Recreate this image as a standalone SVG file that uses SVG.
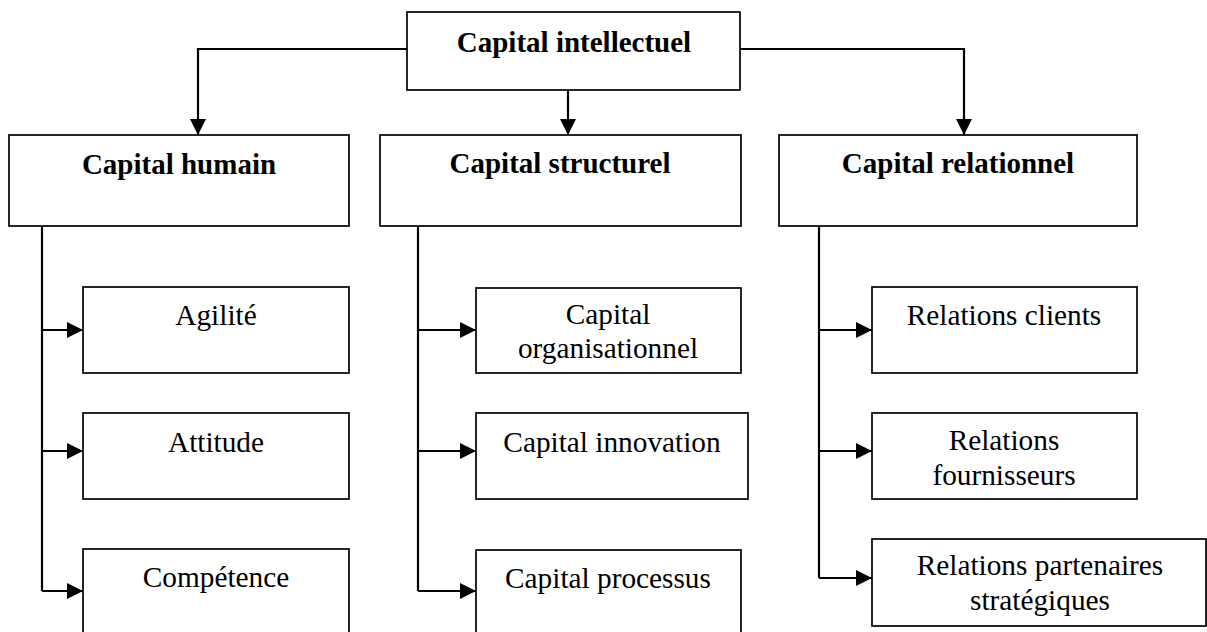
<svg xmlns="http://www.w3.org/2000/svg" width="1207" height="632" viewBox="0 0 1207 632">
<style>
.box{fill:#fff;stroke:#000;stroke-width:1.7}
.b{font-family:"Liberation Serif","Times New Roman",serif;font-weight:bold;font-size:29px;text-anchor:middle;fill:#000}
.t{font-family:"Liberation Serif","Times New Roman",serif;font-size:29.3px;text-anchor:middle;fill:#000}
.c{fill:none;stroke:#000;stroke-width:2.2}
</style>
<defs>
<marker id="ah" markerUnits="userSpaceOnUse" markerWidth="17" markerHeight="17" refX="16" refY="8" orient="auto">
<path d="M0,0 L16,8 L0,16 Z" fill="#000"/>
</marker>
</defs>
<rect width="1207" height="632" fill="#fff"/>
<g id="connectors">
<path class="c" d="M407,49 H198 V135" marker-end="url(#ah)"/>
<path class="c" d="M740,49 H964 V135" marker-end="url(#ah)"/>
<path class="c" d="M568,90 V135" marker-end="url(#ah)"/>
<path class="c" d="M42,226 V591"/>
<path class="c" d="M42,330 H83" marker-end="url(#ah)"/>
<path class="c" d="M42,451 H83" marker-end="url(#ah)"/>
<path class="c" d="M42,591 H83" marker-end="url(#ah)"/>
<path class="c" d="M418,226 V591"/>
<path class="c" d="M418,330 H476" marker-end="url(#ah)"/>
<path class="c" d="M418,451 H476" marker-end="url(#ah)"/>
<path class="c" d="M418,591 H476" marker-end="url(#ah)"/>
<path class="c" d="M819,226 V578"/>
<path class="c" d="M819,330 H872" marker-end="url(#ah)"/>
<path class="c" d="M819,451 H872" marker-end="url(#ah)"/>
<path class="c" d="M819,578 H872" marker-end="url(#ah)"/>
</g>
<g id="n-intellectuel"><rect class="box" x="407" y="12" width="333" height="78"/><text class="b" x="574" y="52">Capital intellectuel</text></g>
<g id="n-humain"><rect class="box" x="9" y="135" width="340" height="91"/><text class="b" x="179" y="174">Capital humain</text></g>
<g id="n-structurel"><rect class="box" x="380" y="135" width="361" height="91"/><text class="b" x="560" y="173">Capital structurel</text></g>
<g id="n-relationnel"><rect class="box" x="779" y="135" width="358" height="91"/><text class="b" x="958" y="173">Capital relationnel</text></g>
<g id="n-agilite"><rect class="box" x="83" y="287" width="266" height="86"/><text class="t" x="216" y="325">Agilité</text></g>
<g id="n-attitude"><rect class="box" x="83" y="413" width="266" height="86"/><text class="t" x="216" y="452">Attitude</text></g>
<g id="n-competence"><rect class="box" x="83" y="549" width="266" height="100"/><text class="t" x="216" y="587">Compétence</text></g>
<g id="n-organisationnel"><rect class="box" x="476" y="288" width="265" height="85"/><text class="t" x="608" y="324">Capital</text><text class="t" x="608" y="358">organisationnel</text></g>
<g id="n-innovation"><rect class="box" x="476" y="413" width="272" height="86"/><text class="t" x="612" y="452">Capital innovation</text></g>
<g id="n-processus"><rect class="box" x="476" y="550" width="265" height="100"/><text class="t" x="608" y="588">Capital processus</text></g>
<g id="n-clients"><rect class="box" x="872" y="287" width="265" height="86"/><text class="t" x="1004" y="325">Relations clients</text></g>
<g id="n-fournisseurs"><rect class="box" x="872" y="413" width="265" height="86"/><text class="t" x="1004" y="450">Relations</text><text class="t" x="1004" y="485">fournisseurs</text></g>
<g id="n-partenaires"><rect class="box" x="872" y="539" width="334" height="87"/><text class="t" x="1040" y="575">Relations partenaires</text><text class="t" x="1040" y="610">stratégiques</text></g>
</svg>
